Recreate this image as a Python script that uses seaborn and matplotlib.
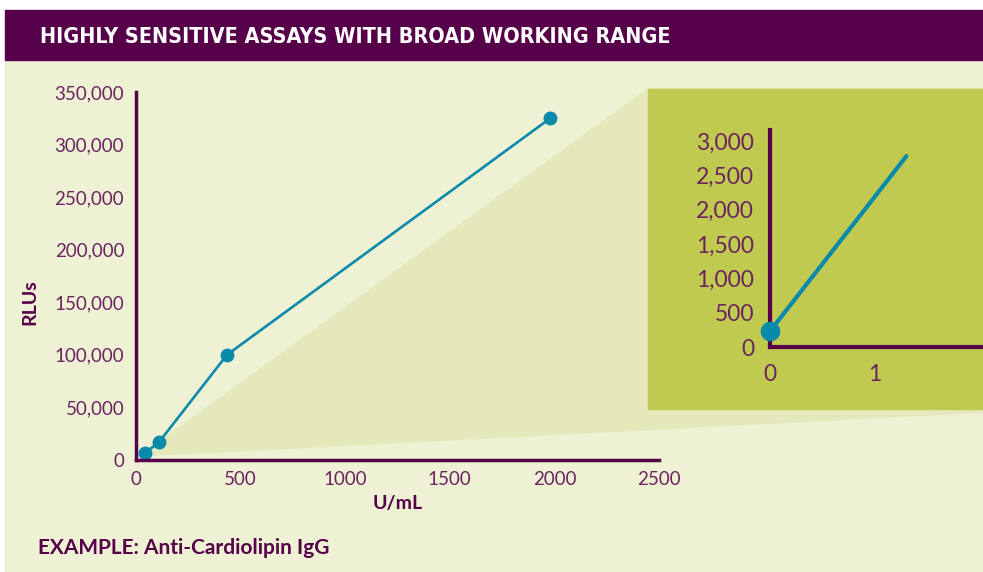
import matplotlib
matplotlib.use('Agg')
import matplotlib.pyplot as plt
import matplotlib.patches as mpatches
import matplotlib.ticker as mticker
import pandas as pd
import seaborn as sns

# --- data ---
units = [45, 110, 435, 1980]            # U/mL
rlus = [7000, 17000, 100000, 325000]    # RLUs
zoom_units = [0.0, 1.3]
zoom_rlus = [230, 2780]

title = 'HIGHLY SENSITIVE ASSAYS WITH BROAD WORKING RANGE'
example = 'EXAMPLE: Anti-Cardiolipin IgG'

PURPLE = '#57004a'
TICK = '#6b245f'
TEAL = '#0a8aab'
CREAM = '#eef1d4'
WEDGE = '#e4e8ba'
OLIVE = '#c1ca50'

sns.set_theme(style='white')
plt.rcParams['font.family'] = ['Lato', 'DejaVu Sans']

W, H = 983, 572
fig = plt.figure(figsize=(W / 100, H / 100), dpi=100)
fig.patch.set_facecolor('white')


def px(x, y):
    # pixel coords (top-left origin) -> figure fraction
    return x / W, 1 - y / H


# background panel, banner, wedge and inset box (behind the axes)
fig.patches.append(mpatches.Rectangle(px(5, 572), 978 / W, 512 / H, transform=fig.transFigure,
                                      color=CREAM, zorder=-3))
fig.patches.append(mpatches.Rectangle(px(5, 60), 978 / W, 50 / H, transform=fig.transFigure,
                                      color=PURPLE, zorder=-3))
wedge = [px(140, 456), px(648, 89), px(983, 89), px(983, 412)]
fig.patches.append(mpatches.Polygon(wedge, closed=True, transform=fig.transFigure,
                                    color=WEDGE, zorder=-2))
fig.patches.append(mpatches.Rectangle(px(648, 409), 335 / W, 320 / H, transform=fig.transFigure,
                                      color=OLIVE, zorder=-1))

fig.text(*px(40, 37), title, color='white', fontsize=15.5, fontweight='bold',
         family='DejaVu Sans', fontstretch='condensed', va='center', ha='left')
fig.text(*px(38, 548), example, color=PURPLE, fontsize=15, fontweight='bold',
         va='center', ha='left')

# --- main chart ---
ax = fig.add_axes([136 / W, (H - 460) / H, 523 / W, 368 / H])
ax.patch.set_alpha(0)
df = pd.DataFrame({'U/mL': units, 'RLUs': rlus})
sns.lineplot(data=df, x='U/mL', y='RLUs', ax=ax, color=TEAL, lw=1.9,
             marker='o', markersize=10, markeredgewidth=0, clip_on=False)
ax.set_xlim(0, 2500)
ax.set_ylim(0, 350000)
ax.set_xticks([0, 500, 1000, 1500, 2000, 2500])
ax.set_yticks(range(0, 350001, 50000))
ax.yaxis.set_major_formatter(mticker.FuncFormatter(lambda v, p: f'{int(v):,}'))
ax.tick_params(colors=TICK, labelsize=13.5, length=0)
ax.tick_params(axis='y', pad=8.5)
ax.tick_params(axis='x', pad=8)
ax.set_xlabel('U/mL', color=PURPLE, fontsize=14, fontweight='bold', labelpad=5)
ax.set_ylabel('RLUs', color=PURPLE, fontsize=14, fontweight='bold')
ax.yaxis.set_label_coords(-0.187, 0.43)
for s in ['top', 'right']:
    ax.spines[s].set_visible(False)
for s in ['left', 'bottom']:
    ax.spines[s].set_color(PURPLE)
    ax.spines[s].set_linewidth(2.5)

# --- inset zoom ---
ax2 = fig.add_axes([770 / W, (H - 347) / H, 213 / W, 217 / H])
ax2.patch.set_alpha(0)
zdf = pd.DataFrame({'x': zoom_units, 'y': zoom_rlus})
sns.lineplot(data=zdf, x='x', y='y', ax=ax2, color=TEAL, lw=3)
sns.scatterplot(x=zoom_units[:1], y=zoom_rlus[:1], ax=ax2, color=TEAL, s=200,
                linewidth=0, clip_on=False, zorder=5)
ax2.set_xlim(0, 2.03)
ax2.set_ylim(0, 3160)
ax2.set_xticks([0, 1])
ax2.set_yticks(range(0, 3001, 500))
ax2.yaxis.set_major_formatter(mticker.FuncFormatter(lambda v, p: f'{int(v):,}'))
ax2.tick_params(colors=TICK, labelsize=16.5, length=0)
ax2.tick_params(axis='y', pad=11.5)
ax2.tick_params(axis='x', pad=12)
ax2.set_xlabel('')
ax2.set_ylabel('')
for s in ['top', 'right']:
    ax2.spines[s].set_visible(False)
for s in ['left', 'bottom']:
    ax2.spines[s].set_color(PURPLE)
    ax2.spines[s].set_linewidth(3)

fig.savefig('out.png', dpi=100, facecolor=fig.get_facecolor())
